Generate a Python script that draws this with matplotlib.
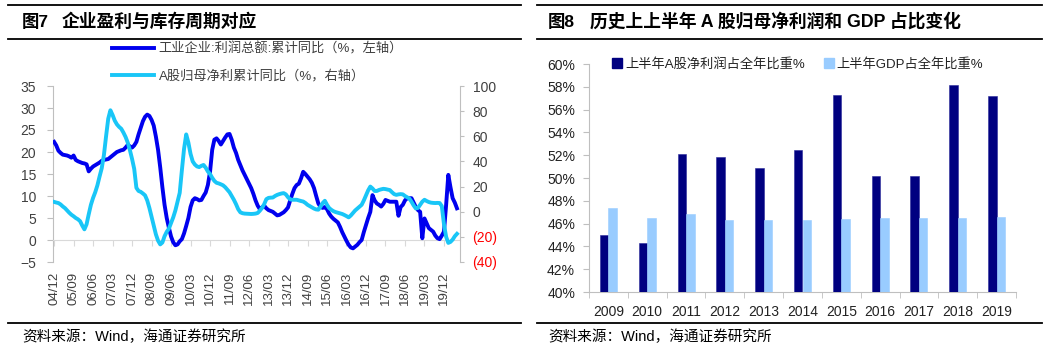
import matplotlib
matplotlib.use('Agg')
import matplotlib.pyplot as plt
from matplotlib.lines import Line2D
from matplotlib.ticker import FuncFormatter
import numpy as np

plt.rcParams['font.family'] = ['Liberation Sans', 'Noto Sans CJK SC', 'DejaVu Sans']

# ---------------- Data: left chart (monthly, 2004/12 - 2020/06) ----------------
industrial_profit = [
    22.3, 21.5, 20.3, 19.8, 19.4, 19.3, 19.2, 19.0, 18.7, 19.2,
    18.2, 17.9, 17.7, 17.5, 17.4, 17.2, 15.6, 16.2, 16.7, 17.0,
    17.3, 17.6, 18.0, 18.2, 18.3, 18.4, 18.8, 19.2, 19.6, 20.0,
    20.2, 20.4, 20.5, 21.0, 21.6, 21.3, 21.0, 21.5, 22.3, 24.0,
    25.5, 27.0, 28.0, 28.5, 28.2, 27.3, 26.0, 23.5, 20.5, 16.5,
    12.0, 8.0, 5.0, 2.8, 0.8, -0.5, -1.2, -1.0, -0.3, 0.2,
    1.5, 3.2, 5.0, 7.5, 9.0, 9.5, 9.3, 9.0, 9.1, 10.0,
    10.8, 12.5, 15.5, 20.5, 22.8, 23.1, 22.5, 21.7, 22.5, 23.3,
    24.0, 24.1, 22.8, 21.0, 19.8, 18.2, 17.0, 15.8, 14.8, 13.8,
    12.8, 11.8, 10.5, 9.0, 7.8, 7.0, 7.4, 7.8, 7.2, 6.8,
    6.6, 6.4, 6.0, 5.6, 5.7, 6.0, 6.3, 6.8, 7.4, 9.0,
    10.5, 11.8, 12.5, 12.8, 14.0, 15.5, 15.0, 14.4, 13.8, 13.0,
    11.8, 10.0, 8.3, 7.5, 7.3, 7.5, 7.0, 6.0, 5.3, 4.8,
    4.4, 4.0, 3.0, 1.8, 0.8, -0.2, -1.1, -1.7, -1.9, -1.5,
    -1.1, -0.5, 0.0, 1.8, 3.4, 5.0, 6.4, 10.2, 9.0, 8.3,
    8.0, 7.6, 8.2, 9.1, 8.9, 8.7, 8.7, 8.7, 8.7, 5.5,
    7.5, 8.0, 9.0, 9.5, 9.5, 9.5, 8.5, 7.5, 6.8, 6.4,
    0.4, 4.9, 3.8, 2.7, 2.3, 1.9, 1.0, 0.4, 0.2, 1.0,
    1.9, 8.0, 14.8, 12.0, 9.5, 8.5, 7.2,
]

ashare_profit = [
    7.8, 7.3, 6.9, 5.8, 4.2, 2.9, 1.0, -0.8, -2.4, -3.6,
    -5.0, -6.0, -7.5, -11.0, -14.0, -10.0, -2.0, 5.5, 11.0, 15.5,
    21.0, 28.0, 34.6, 45.0, 60.0, 74.0, 80.7, 77.0, 72.5, 69.5,
    67.5, 66.0, 63.0, 59.5, 55.0, 49.0, 42.0, 34.0, 19.0, 16.5,
    15.8, 14.5, 13.0, 9.0, 3.0, -4.0, -11.0, -18.0, -23.0, -26.0,
    -24.5, -19.5, -16.0, -13.5, -9.0, -4.5, 1.0, 8.0, 15.0, 33.0,
    50.0, 61.5, 55.0, 46.0, 40.0, 37.5, 36.0, 35.5, 36.5, 37.2,
    35.0, 32.0, 30.0, 27.0, 24.5, 23.0, 22.5, 21.8, 21.0, 19.5,
    17.5, 15.5, 12.5, 9.5, 6.0, 2.0, -0.5, -1.2, -1.5, -1.6,
    -1.7, -1.8, -1.7, -1.5, -1.0, 0.8, 3.0, 6.0, 10.0, 11.0,
    11.2, 11.3, 12.5, 13.4, 14.0, 14.5, 14.8, 13.8, 11.5, 9.8,
    9.5, 9.5, 9.5, 9.0, 8.5, 8.1, 7.0, 5.5, 4.5, 3.5,
    2.5, 1.8, 1.6, 4.0, 6.9, 8.7, 5.5, 2.9, 1.5, 0.4,
    -0.3, -0.8, -1.3, -1.8, -2.6, -3.5, -4.5, -3.0, -1.0, 1.0,
    2.5, 4.0, 5.5, 9.0, 13.0, 17.0, 20.0, 18.5, 16.5, 16.5,
    17.3, 17.8, 18.2, 18.0, 17.6, 17.2, 15.5, 14.0, 13.4, 13.8,
    14.0, 13.8, 12.5, 11.5, 10.5, 8.0, 5.0, 2.6, 3.0, 5.5,
    8.0, 9.5, 8.5, 7.7, 7.2, 7.0, 6.9, 7.0, 6.9, 4.5,
    -10.0, -20.0, -24.8, -24.0, -22.2, -19.5, -17.6,
]

month_tick_labels = ['04/12', '05/09', '06/06', '07/03', '07/12', '08/09', '09/06',
                     '10/03', '10/12', '11/09', '12/06', '13/03', '13/12', '14/09',
                     '15/06', '16/03', '16/12', '17/09', '18/06', '19/03', '19/12']
month_tick_step = 9

series_left = ['工业企业:利润总额:累计同比（%，左轴）', 'A股归母净利累计同比（%，右轴）']

# ---------------- Data: right chart ----------------
years = ['2009', '2010', '2011', '2012', '2013', '2014', '2015', '2016', '2017', '2018', '2019']
ashare_h1_share = [45.0, 44.3, 52.1, 51.8, 50.9, 52.45, 57.3, 50.2, 50.15, 58.2, 57.15]
gdp_h1_share = [47.4, 46.5, 46.8, 46.35, 46.35, 46.3, 46.4, 46.45, 46.45, 46.5, 46.55]
series_right = ['上半年A股净利润占全年比重%', '上半年GDP占全年比重%']

# ---------------- Figure ----------------
W, H = 1050, 352
fig = plt.figure(figsize=(W / 100, H / 100), dpi=100)

def fx(px):
    return px / W

def fy(py):
    return 1 - py / H

TXT = '#404040'
AXC = '#BFBFBF'
BLUE = '#0000EE'
CYAN = '#19C6F7'

# header rules and titles
for x0, x1 in [(8, 521), (537, 1042)]:
    for yy, lw in [(5, 1.3), (39, 1.3), (323, 1.3)]:
        fig.add_artist(Line2D([fx(x0), fx(x1)], [fy(yy), fy(yy)], color='black', lw=lw,
                              transform=fig.transFigure))

fig.text(fx(22), fy(22), '图7', fontsize=12.5, fontweight='bold', va='center', ha='left')
fig.text(fx(62), fy(22), '企业盈利与库存周期对应', fontsize=12.8, fontweight='bold',
         va='center', ha='left')
fig.text(fx(548), fy(22), '图8', fontsize=12.5, fontweight='bold', va='center', ha='left')
fig.text(fx(590), fy(22), '历史上上半年 A 股归母净利润和 GDP 占比变化', fontsize=12.8,
         fontweight='bold', va='center', ha='left')
fig.text(fx(22), fy(337), '资料来源：Wind，海通证券研究所', fontsize=10.5, va='center', ha='left')
fig.text(fx(548), fy(337), '资料来源：Wind，海通证券研究所', fontsize=10.5, va='center', ha='left')

# ---------------- Left chart ----------------
ax1 = fig.add_axes([fx(53), fy(262), fx(407), 176 / H])
x = np.arange(len(industrial_profit))
l1, = ax1.plot(x, industrial_profit, color=BLUE, lw=2.8, solid_joinstyle='round', zorder=3)
ax1.set_ylim(-5, 35)
ax1.set_yticks(np.arange(-5, 36, 5))
ax1.set_xlim(-0.5, 187.4)

ax2 = ax1.twinx()
x2 = np.arange(len(ashare_profit))
l2, = ax2.plot(x2, ashare_profit, color=CYAN, lw=2.8, solid_joinstyle='round', zorder=3)
ax2.set_ylim(-40, 100)
ax2.set_yticks(np.arange(-40, 101, 20))
ax2.yaxis.set_major_formatter(FuncFormatter(lambda v, p: f'({abs(int(v))})' if v < 0 else f'{int(v)}'))

for s in ['top', 'right']:
    ax1.spines[s].set_visible(False)
for s in ['top', 'left', 'bottom']:
    ax2.spines[s].set_visible(False)
ax1.spines['left'].set_color(AXC)
ax2.spines['right'].set_color(AXC)
ax1.spines['bottom'].set_position(('data', 0))
ax1.spines['bottom'].set_color('#D9D9D9')

tick_pos = np.arange(0, len(industrial_profit), month_tick_step)[:len(month_tick_labels)]
ax1.set_xticks(tick_pos)
ax1.tick_params(axis='x', direction='out', length=4, color='#D9D9D9', labelbottom=False)
ax1.tick_params(axis='y', direction='out', length=4, color=AXC, labelsize=10, labelcolor=TXT, pad=8)
ax2.tick_params(axis='y', direction='out', length=3, color=AXC, labelsize=10, labelcolor=TXT, pad=6)
for tk, v in zip(ax2.yaxis.get_major_ticks(), ax2.get_yticks()):
    if v < 0:
        tk.label2.set_color('#FF0000')

sec = ax1.secondary_xaxis('bottom')
sec.set_xticks(tick_pos, labels=month_tick_labels)
sec.tick_params(length=0, labelrotation=90, labelsize=9.5, labelcolor=TXT, pad=7)
sec.spines['bottom'].set_visible(False)

fig.legend([l1, l2], series_left, loc='upper left', bbox_to_anchor=(fx(112), fy(42.5)),
           frameon=False, fontsize=9.5, labelcolor=TXT, handlelength=3.2, handletextpad=0.35,
           labelspacing=1.05, borderpad=0, borderaxespad=0)

# ---------------- Right chart ----------------
ax3 = fig.add_axes([fx(589), fy(292), fx(427), 228 / H])
xc = np.arange(len(years))
bw = 0.22
b1 = ax3.bar(xc - bw / 2, [v - 40 for v in ashare_h1_share], bottom=40, width=bw,
             color='#000080', edgecolor='#2A2A9A', linewidth=0.4, zorder=3)
b2 = ax3.bar(xc + bw / 2, [v - 40 for v in gdp_h1_share], bottom=40, width=bw,
             color='#99CCFF', edgecolor='#99CCFF', linewidth=0.4, zorder=3)
ax3.set_ylim(40, 60)
ax3.set_yticks(np.arange(40, 61, 2))
ax3.yaxis.set_major_formatter(FuncFormatter(lambda v, p: f'{int(round(v))}%'))
ax3.set_xlim(-0.5, len(years) - 0.5)
ax3.set_xticks(xc, labels=years)
ax3.set_xticks(np.arange(-0.5, len(years), 1), minor=True)
ax3.tick_params(axis='x', which='major', length=0, labelsize=10, labelcolor='#222222', pad=9)
ax3.tick_params(axis='x', which='minor', length=4, color=AXC, direction='out')
ax3.tick_params(axis='y', length=4, color=AXC, direction='out', labelsize=10, labelcolor='#222222', pad=6)
for s in ['top', 'right']:
    ax3.spines[s].set_visible(False)
ax3.spines['left'].set_color(AXC)
ax3.spines['bottom'].set_color(AXC)

h1 = Line2D([], [], marker='s', ls='none', color='#000080', markersize=6.5)
h2 = Line2D([], [], marker='s', ls='none', color='#99CCFF', markersize=6.5)
fig.legend([h1, h2], series_right, loc='center left', bbox_to_anchor=(fx(612), fy(64)),
           ncol=2, frameon=False, fontsize=9.5, labelcolor='#222222', handlelength=0.8,
           handletextpad=0.2, columnspacing=1.4, borderpad=0, borderaxespad=0)

fig.savefig('out.png', dpi=100)
